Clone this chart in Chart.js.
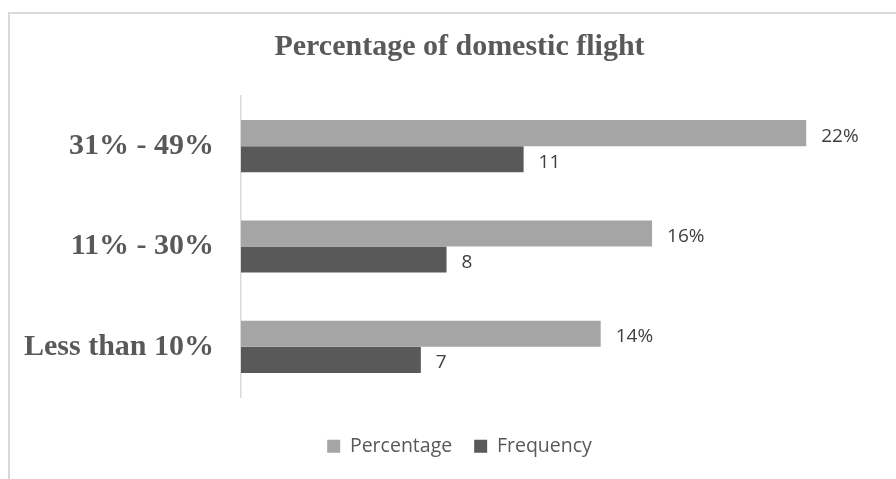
<!DOCTYPE html>
<html>
<head>
<meta charset="utf-8">
<title>Percentage of domestic flight</title>
<script src="https://cdn.jsdelivr.net/npm/chart.js@4/dist/chart.umd.min.js"></script>
<style>
  html, body { margin: 0; padding: 0; background: #fff; overflow: hidden; }
  .chartBox {
    position: absolute;
    left: 8px;
    top: 12px;
    width: 903px;
    height: 490px;
    border: 2px solid #d9d9d9;
    box-sizing: border-box;
  }
  canvas { display: block; }
</style>
</head>
<body>
<div class="chartBox">
  <canvas id="myChart" width="899" height="465"></canvas>
</div>
<script>
const categories = ['31% - 49%', '11% - 30%', 'Less than 10%'];
const percentageValues = [22, 16, 14];
const frequencyValues = [11, 8, 7];
const seriesNames = ['Percentage', 'Frequency'];

// writes the value next to the end of each bar
const barValueLabels = {
  id: 'barValueLabels',
  afterDatasetsDraw(chart) {
    const ctx = chart.ctx;
    ctx.save();
    ctx.font = '19px "Open Sans"';
    ctx.fillStyle = '#404040';
    ctx.textBaseline = 'middle';
    ctx.textAlign = 'left';
    chart.data.datasets.forEach((ds, i) => {
      chart.getDatasetMeta(i).data.forEach((bar, j) => {
        ctx.fillText(ds.data[j] + ds.suffix, bar.x + 15, bar.y + 3);
      });
    });
    ctx.restore();
  }
};

var ctx = document.getElementById('myChart').getContext('2d');
const myChart = new Chart(ctx, {
  type: 'bar',
  data: {
    labels: categories,
    datasets: [{
      label: seriesNames[0],
      data: percentageValues,
      suffix: '%',
      backgroundColor: '#a5a5a5',
      categoryPercentage: 0.52,
      barPercentage: 1.0
    }, {
      label: seriesNames[1],
      data: frequencyValues,
      suffix: '',
      backgroundColor: '#595959',
      categoryPercentage: 0.52,
      barPercentage: 1.0
    }]
  },
  options: {
    indexAxis: 'y',
    responsive: false,
    animation: false,
    layout: { padding: { left: 0, right: 0, top: 0, bottom: 13 } },
    scales: {
      x: {
        min: 0,
        max: 26,
        grid: { display: false },
        border: { display: false },
        ticks: { display: false },
        afterFit(scale) { scale.height = 17.5; }
      },
      y: {
        grid: { display: false, drawTicks: false },
        border: { display: true, color: '#d9d9d9', width: 1.5 },
        ticks: {
          padding: 27,
          color: '#595959',
          font: { family: '"Liberation Serif"', size: 30, weight: 'bold' }
        },
        afterFit(scale) { scale.width = 231; }
      }
    },
    plugins: {
      title: {
        display: true,
        text: 'Percentage of domestic flight',
        color: '#595959',
        font: { family: '"Liberation Serif"', size: 30, weight: 'bold', lineHeight: 1.2 },
        padding: { top: 15, bottom: 31 }
      },
      legend: {
        position: 'bottom',
        labels: {
          color: '#595959',
          boxWidth: 13,
          boxHeight: 13,
          padding: 22,
          font: { family: '"Open Sans"', size: 19.5 }
        }
      },
      tooltip: { enabled: false }
    }
  },
  plugins: [barValueLabels]
});
</script>
</body>
</html>
